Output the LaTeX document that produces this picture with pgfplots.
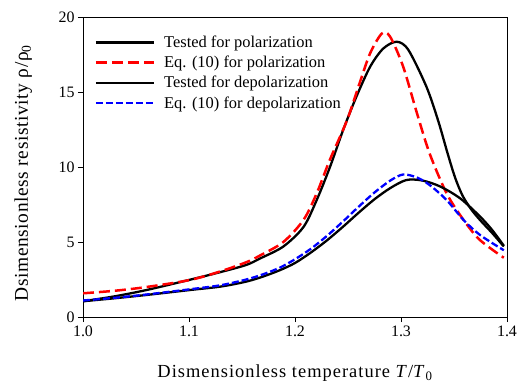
\documentclass[border=0pt]{standalone}
\usepackage{pgfplots}
\pgfplotsset{compat=1.18}
\usepackage{fontspec}
\setmainfont{Liberation Serif}
\begin{document}
\begin{tikzpicture}
\begin{axis}[
  scale only axis,
  width=424bp, height=300bp,
  xmin=1.0, xmax=1.4, ymin=0, ymax=20,
  xtick={1.0,1.1,1.2,1.3,1.4},
  ytick={0,5,10,15,20},
  xticklabel style={/pgf/number format/.cd,fixed,fixed zerofill,precision=1},
  /pgf/number format/assume math mode=true,
  tick align=outside,
  xtick pos=bottom, ytick pos=left,
  major tick length=5bp,
  tick style={black, line width=0.7pt},
  axis line style={line width=0.7pt},
  ticklabel style={font=\fontsize{16}{18}\selectfont},
  xlabel={Dismensionless temperature \textit{T}/\textit{T}$_{\mathrm{0}}$},
  ylabel={Dsimensionless resistivity ρ/ρ$_{\mathrm{0}}$},
  xlabel style={font=\fontsize{18.5}{20}\addfontfeature{LetterSpace=5.5}\selectfont, at={(axis description cs:0.5,-0.203)}, anchor=base},
  ylabel style={font=\fontsize{19.5}{21}\addfontfeature{LetterSpace=3}\selectfont, at={(axis description cs:-0.13,0.48)}, anchor=base},
  legend cell align=left,
  legend style={draw=none, fill=none, at={(0.02,0.951)}, anchor=north west,
    font=\fontsize{16.5}{18}\selectfont, row sep=3.2bp},
  legend image code/.code={\draw[#1] (0bp,0bp) -- (58bp,0bp); \path (65bp,0bp);},
]
\addplot[black, line width=2.3bp, smooth] coordinates {
(1.000,1.05) (1.030,1.38) (1.060,1.80) (1.100,2.47) (1.130,3.00) (1.154,3.47) (1.167,3.90) (1.189,4.70) (1.208,6.00) (1.2205,7.80) (1.233,10.0) (1.2456,12.5) (1.258,14.7) (1.271,16.7) (1.2833,17.9) (1.296,18.35) (1.307,17.8) (1.324,15.35) (1.335,13.1) (1.344,10.9) (1.351,9.3) (1.358,8.1) (1.366,7.2) (1.3745,6.47) (1.386,5.6) (1.397,4.7)};
\addlegendentry{Tested for polarization}
\addplot[red, line width=2.5bp, dash pattern=on 11bp off 5bp, smooth] coordinates {
(1.000,1.58) (1.030,1.75) (1.060,2.00) (1.101,2.47) (1.130,3.05) (1.154,3.65) (1.167,4.10) (1.189,5.00) (1.208,6.47) (1.2205,8.25) (1.233,10.5) (1.249,13.1) (1.261,15.6) (1.271,17.6) (1.282,18.9) (1.2896,18.7) (1.302,16.7) (1.315,13.6) (1.327,10.9) (1.343,8.25) (1.359,6.47) (1.3745,5.13) (1.397,3.95)};
\addlegendentry{Eq. (10) for polarization}
\addplot[black, line width=2.3bp, smooth] coordinates {
(1.000,1.05) (1.030,1.25) (1.060,1.47) (1.101,1.80) (1.130,2.03) (1.154,2.36) (1.170,2.70) (1.186,3.13) (1.200,3.60) (1.215,4.30) (1.230,5.10) (1.245,6.00) (1.260,6.95) (1.275,7.85) (1.290,8.60) (1.305,9.13) (1.320,9.10) (1.337,8.70) (1.356,7.90) (1.3745,6.70) (1.386,5.80) (1.397,4.75)};
\addlegendentry{Tested for depolarization}
\addplot[blue, line width=2.3bp, dash pattern=on 7bp off 3bp, smooth] coordinates {
(1.000,1.10) (1.030,1.28) (1.060,1.50) (1.101,1.85) (1.130,2.12) (1.154,2.50) (1.170,2.85) (1.186,3.30) (1.200,3.85) (1.215,4.55) (1.230,5.40) (1.245,6.35) (1.260,7.35) (1.275,8.30) (1.290,9.10) (1.302,9.50) (1.315,9.30) (1.327,8.80) (1.343,7.80) (1.359,6.47) (1.3745,5.47) (1.397,4.45)};
\addlegendentry{Eq. (10) for depolarization}
\end{axis}
\pgfresetboundingbox
\useasboundingbox ([shift={(-83bp,-69bp)}]current axis.south west) rectangle ([shift={(22bp,17bp)}]current axis.north east);
\end{tikzpicture}
\end{document}
